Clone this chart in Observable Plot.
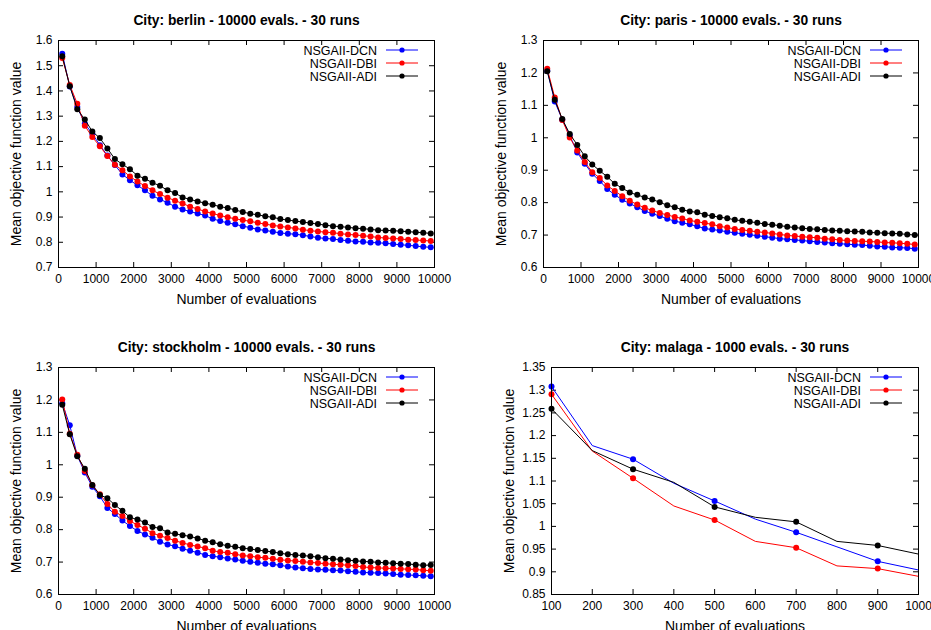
<!DOCTYPE html>
<html>
<head>
<meta charset="utf-8">
<script src="https://cdn.jsdelivr.net/npm/d3@7"></script>
<script src="https://cdn.jsdelivr.net/npm/@observablehq/plot@0.6"></script>
<style>
  html, body { margin: 0; padding: 0; background: #fff; width: 931px; height: 630px; overflow: hidden; }
  .panel { position: absolute; }
</style>
</head>
<body>
<div id="p1" class="panel" style="left:0;top:0"></div>
<div id="p2" class="panel" style="left:465px;top:0"></div>
<div id="p3" class="panel" style="left:0;top:315px"></div>
<div id="p4" class="panel" style="left:465px;top:315px"></div>
<script>
// ---------- data ----------
const seriesNames = ["NSGAII-DCN", "NSGAII-DBI", "NSGAII-ADI"];
const seriesColors = ["#0000ff", "#ff0000", "#000000"];

const evals10k = [100,300,500,700,900,1100,1300,1500,1700,1900,2100,2300,2500,2700,2900,3100,3300,3500,3700,3900,
  4100,4300,4500,4700,4900,5100,5300,5500,5700,5900,6100,6300,6500,6700,6900,7100,7300,7500,7700,7900,
  8100,8300,8500,8700,8900,9100,9300,9500,9700,9900];
const evals1k = [100,200,300,400,500,600,700,800,900,1000];

const berlinDCN = [1.547,1.418,1.336,1.270,1.230,1.185,1.144,1.106,1.069,1.046,1.026,1.006,0.984,0.970,0.957,0.941,0.930,0.922,0.914,0.906,
  0.893,0.884,0.877,0.871,0.864,0.858,0.851,0.847,0.842,0.837,0.834,0.832,0.828,0.823,0.818,0.815,0.813,0.809,0.806,0.803,
  0.802,0.799,0.798,0.796,0.793,0.790,0.788,0.785,0.782,0.780];
const berlinDBI = [1.531,1.424,1.349,1.262,1.217,1.181,1.142,1.107,1.086,1.061,1.041,1.023,1.006,0.991,0.977,0.965,0.954,0.941,0.932,0.922,
  0.914,0.906,0.899,0.893,0.888,0.883,0.877,0.872,0.867,0.863,0.859,0.855,0.850,0.846,0.843,0.840,0.838,0.834,0.831,0.829,
  0.826,0.823,0.819,0.817,0.815,0.813,0.810,0.809,0.807,0.805];
const berlinADI = [1.538,1.419,1.327,1.287,1.239,1.213,1.172,1.130,1.109,1.090,1.064,1.052,1.036,1.024,1.006,0.995,0.978,0.970,0.962,0.955,
  0.949,0.941,0.936,0.928,0.920,0.913,0.909,0.903,0.899,0.892,0.888,0.884,0.880,0.876,0.872,0.868,0.864,0.862,0.859,0.856,
  0.854,0.851,0.848,0.847,0.846,0.844,0.842,0.840,0.838,0.835];

const parisDCN = [1.207,1.112,1.056,1.007,0.955,0.920,0.889,0.867,0.842,0.824,0.809,0.797,0.786,0.774,0.766,0.759,0.750,0.743,0.738,0.733,
  0.727,0.720,0.717,0.714,0.710,0.707,0.704,0.701,0.698,0.695,0.692,0.689,0.687,0.685,0.683,0.681,0.679,0.677,0.675,0.673,
  0.672,0.670,0.669,0.667,0.665,0.664,0.662,0.661,0.660,0.658];
const parisDBI = [1.213,1.124,1.055,1.001,0.961,0.925,0.894,0.876,0.853,0.836,0.820,0.806,0.794,0.784,0.776,0.768,0.762,0.756,0.751,0.745,
  0.741,0.737,0.733,0.727,0.723,0.719,0.716,0.713,0.710,0.708,0.705,0.702,0.699,0.697,0.695,0.693,0.692,0.689,0.687,0.685,
  0.683,0.682,0.681,0.680,0.679,0.677,0.676,0.675,0.673,0.671];
const parisADI = [1.205,1.117,1.058,1.012,0.978,0.943,0.918,0.898,0.880,0.858,0.845,0.831,0.824,0.816,0.810,0.801,0.792,0.786,0.778,0.773,
  0.770,0.763,0.759,0.755,0.752,0.747,0.744,0.741,0.738,0.734,0.732,0.729,0.726,0.723,0.721,0.719,0.718,0.716,0.714,0.713,
  0.712,0.711,0.710,0.708,0.707,0.706,0.705,0.704,0.702,0.700];

const stockholmDCN = [1.190,1.122,1.028,0.976,0.932,0.903,0.867,0.848,0.828,0.811,0.796,0.785,0.775,0.763,0.754,0.749,0.741,0.735,0.729,0.722,
  0.718,0.715,0.711,0.708,0.704,0.701,0.698,0.695,0.693,0.690,0.686,0.683,0.681,0.679,0.677,0.676,0.675,0.674,0.672,0.670,
  0.668,0.667,0.666,0.665,0.663,0.661,0.660,0.659,0.658,0.656];
const stockholmDBI = [1.201,1.096,1.031,0.981,0.937,0.909,0.879,0.855,0.842,0.827,0.814,0.803,0.789,0.781,0.774,0.766,0.759,0.753,0.748,0.743,
  0.735,0.731,0.729,0.724,0.720,0.718,0.715,0.713,0.710,0.707,0.705,0.703,0.701,0.699,0.697,0.695,0.693,0.692,0.690,0.688,
  0.685,0.683,0.682,0.681,0.680,0.679,0.678,0.677,0.675,0.673];
const stockholmADI = [1.185,1.094,1.026,0.988,0.938,0.907,0.897,0.876,0.858,0.838,0.831,0.822,0.808,0.804,0.791,0.787,0.783,0.779,0.773,0.766,
  0.761,0.755,0.750,0.747,0.743,0.740,0.737,0.734,0.731,0.727,0.724,0.722,0.720,0.718,0.715,0.712,0.710,0.708,0.706,0.704,
  0.702,0.701,0.699,0.698,0.696,0.695,0.694,0.692,0.690,0.691];

const malagaDCN = [1.308,1.178,1.148,1.095,1.056,1.016,0.987,0.955,0.923,0.904];
const malagaDBI = [1.291,1.166,1.106,1.045,1.014,0.967,0.953,0.913,0.907,0.890];
const malagaADI = [1.259,1.167,1.126,1.097,1.043,1.020,1.010,0.967,0.958,0.939];

const xTicks10k = [0,1000,2000,3000,4000,5000,6000,7000,8000,9000,10000];
const xTicks1k = [100,200,300,400,500,600,700,800,900,1000];
const yTicksBerlin = [0.7,0.8,0.9,1,1.1,1.2,1.3,1.4,1.5,1.6];
const yTicksParis = [0.6,0.7,0.8,0.9,1,1.1,1.2,1.3];
const yTicksStockholm = [0.6,0.7,0.8,0.9,1,1.1,1.2,1.3];
const yTicksMalaga = [0.85,0.9,0.95,1,1.05,1.1,1.15,1.2,1.25,1.3,1.35];

const titles = [
  "City: berlin - 10000 evals. - 30 runs",
  "City: paris - 10000 evals. - 30 runs",
  "City: stockholm - 10000 evals. - 30 runs",
  "City: malaga - 1000 evals. - 30 runs"
];
const xLabel = "Number of evaluations";
const yLabel = "Mean objective function value";

// ---------- drawing ----------
const FONT = "'Liberation Sans', Arial, Helvetica, sans-serif";

function legendMark() {
  return (index, scales, values, dims) => {
    const g = d3.create("svg:g");
    const right = dims.width - dims.marginRight;
    const top = dims.marginTop;
    seriesNames.forEach((name, i) => {
      const y = top + 10 + i * 13;
      g.append("text").attr("x", right - 57).attr("y", y).attr("dy", "0.36em")
        .attr("text-anchor", "end").attr("font-size", 12.5).attr("fill", "#000").text(name);
      g.append("line").attr("x1", right - 48).attr("x2", right - 16).attr("y1", y).attr("y2", y)
        .attr("stroke", seriesColors[i]).attr("stroke-width", 1);
      g.append("circle").attr("cx", right - 32).attr("cy", y).attr("r", 2.6).attr("fill", seriesColors[i]);
    });
    return g.node();
  };
}

function panel(cfg) {
  const W = cfg.width, H = 315;
  const frameW = W - cfg.ml - cfg.mr;
  const frameH = H - cfg.mt - cfg.mb;
  const T = 5;
  const marks = [];
  // inward ticks on all four sides
  marks.push(Plot.tickX(cfg.xTicks, {x: d => d, insetTop: frameH - T, stroke: "#000"}));
  marks.push(Plot.tickX(cfg.xTicks, {x: d => d, insetBottom: frameH - T, stroke: "#000"}));
  marks.push(Plot.tickY(cfg.yTicks, {y: d => d, insetRight: frameW - T, stroke: "#000"}));
  marks.push(Plot.tickY(cfg.yTicks, {y: d => d, insetLeft: frameW - T, stroke: "#000"}));
  cfg.series.forEach((vals, i) => {
    const data = cfg.xs.map((x, j) => ({x, y: vals[j]}));
    marks.push(Plot.line(data, {x: "x", y: "y", stroke: seriesColors[i], strokeWidth: 1}));
    marks.push(Plot.dot(data, {x: "x", y: "y", r: 3, fill: seriesColors[i], stroke: "none",
      filter: cfg.every2 ? ((d, j) => j % 2 === 0) : undefined}));
  });
  marks.push(Plot.frame({stroke: "#000", strokeWidth: 1}));
  marks.push(Plot.text([cfg.title], {text: d => d, frameAnchor: "top", dy: -20, lineAnchor: "middle", textAnchor: "middle",
    fontWeight: "bold", fontSize: 13.8, fill: "#000"}));
  marks.push(Plot.text([xLabel], {text: d => d, frameAnchor: "bottom", dy: 32, lineAnchor: "middle", textAnchor: "middle",
    fontSize: 14, fill: "#000"}));
  marks.push(Plot.text([yLabel], {text: d => d, frameAnchor: "left", dx: -42, rotate: -90, lineAnchor: "middle", textAnchor: "middle",
    fontSize: 14, fill: "#000"}));
  marks.push(legendMark());
  return Plot.plot({
    width: W, height: H,
    marginLeft: cfg.ml, marginRight: cfg.mr, marginTop: cfg.mt, marginBottom: cfg.mb,
    style: {fontFamily: FONT, fontSize: "12px", background: "transparent", overflow: "visible", color: "#000"},
    x: {domain: cfg.xDomain, ticks: cfg.xTicks, tickSize: 0, tickPadding: 7, tickFormat: d => String(d), label: null},
    y: {domain: cfg.yDomain, ticks: cfg.yTicks, tickSize: 0, tickPadding: 6, tickFormat: d => String(d), label: null},
    marks
  });
}

document.getElementById("p1").append(panel({
  width: 465, ml: 58, mr: 31, mt: 40, mb: 48,
  xDomain: [0, 10000], yDomain: [0.7, 1.6], xTicks: xTicks10k, yTicks: yTicksBerlin,
  xs: evals10k, series: [berlinDCN, berlinDBI, berlinADI], title: titles[0]
}));
document.getElementById("p2").append(panel({
  width: 466, ml: 78, mr: 13, mt: 40, mb: 48,
  xDomain: [0, 10000], yDomain: [0.6, 1.3], xTicks: xTicks10k, yTicks: yTicksParis,
  xs: evals10k, series: [parisDCN, parisDBI, parisADI], title: titles[1]
}));
document.getElementById("p3").append(panel({
  width: 465, ml: 58, mr: 31, mt: 52, mb: 36,
  xDomain: [0, 10000], yDomain: [0.6, 1.3], xTicks: xTicks10k, yTicks: yTicksStockholm,
  xs: evals10k, series: [stockholmDCN, stockholmDBI, stockholmADI], title: titles[2]
}));
document.getElementById("p4").append(panel({
  width: 466, ml: 86, mr: 13, mt: 52, mb: 36,
  xDomain: [100, 1000], yDomain: [0.85, 1.35], xTicks: xTicks1k, yTicks: yTicksMalaga,
  xs: evals1k, series: [malagaDCN, malagaDBI, malagaADI], title: titles[3], every2: true
}));
</script>
</body>
</html>
